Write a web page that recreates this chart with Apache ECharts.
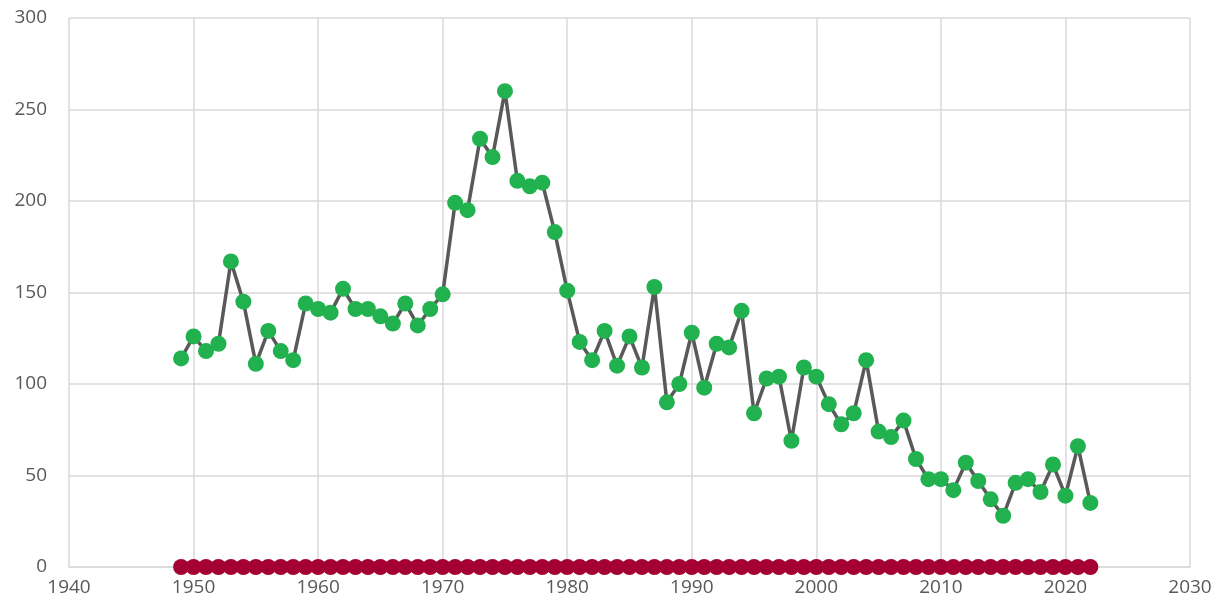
<!DOCTYPE html>
<html>
<head>
<meta charset="utf-8">
<script src="https://cdn.jsdelivr.net/npm/echarts@6/dist/echarts.min.js"></script>
<style>
  html, body { margin: 0; padding: 0; background: #fff; }
  #root { width: 1228px; height: 610px; }
</style>
</head>
<body>
<div id="root"></div>
<script>
// 年份
const years = []
for (let y = 1949; y <= 2022; y++) years.push(y)

// 绿色序列
const values = [
  114, 126, 118, 122, 167, 145, 111, 129, 118, 113,
  144, 141, 139, 152, 141, 141, 137, 133, 144, 132,
  141, 149, 199, 195, 234, 224, 260, 211, 208, 210,
  183, 151, 123, 113, 129, 110, 126, 109, 153, 90,
  100, 128, 98, 122, 120, 140, 84, 103, 104, 69,
  109, 104, 89, 78, 84, 113, 74, 71, 80, 59,
  48, 48, 42, 57, 47, 37, 28, 46, 48, 41,
  56, 39, 66, 35
]

// 底部红点都在 0
const zeros = years.map(() => 0)

const xTicks = [1940, 1950, 1960, 1970, 1980, 1990, 2000, 2010, 2020, 2030]
const yTicks = [0, 50, 100, 150, 200, 250, 300]

const main = document.getElementById('root')
const myChart = echarts.init(main, null, { renderer: 'canvas' })

const labelStyle = { color: '#595959', fontSize: 19, fontFamily: 'Open Sans' }
const gridLine = { show: true, lineStyle: { color: '#d9d9d9', width: 1.5 } }

const option = {
  animation: false,
  grid: { left: 69, right: 38, top: 18, bottom: 43 },
  xAxis: {
    type: 'value',
    min: xTicks[0],
    max: xTicks[xTicks.length - 1],
    interval: 10,
    axisLine: { show: true, lineStyle: { color: '#d9d9d9', width: 1.5 } },
    axisTick: { show: false },
    splitLine: gridLine,
    axisLabel: Object.assign({ margin: 11, formatter: (v) => String(v) }, labelStyle)
  },
  yAxis: {
    type: 'value',
    min: yTicks[0],
    max: yTicks[yTicks.length - 1],
    interval: 50,
    axisLine: { show: false },
    axisTick: { show: false },
    splitLine: gridLine,
    axisLabel: Object.assign({ margin: 22 }, labelStyle)
  },
  series: [
    {
      type: 'line',
      data: years.map((y, i) => [y, zeros[i]]),
      symbol: 'circle',
      symbolSize: 16,
      lineStyle: { width: 0 },
      itemStyle: { color: '#a50034' },
      z: 3
    },
    {
      type: 'line',
      data: years.map((y, i) => [y, values[i]]),
      symbol: 'circle',
      symbolSize: 16,
      lineStyle: { color: '#595959', width: 3.5 },
      itemStyle: { color: '#22b14f' },
      z: 4
    }
  ]
}

myChart.setOption(option)
</script>
</body>
</html>
